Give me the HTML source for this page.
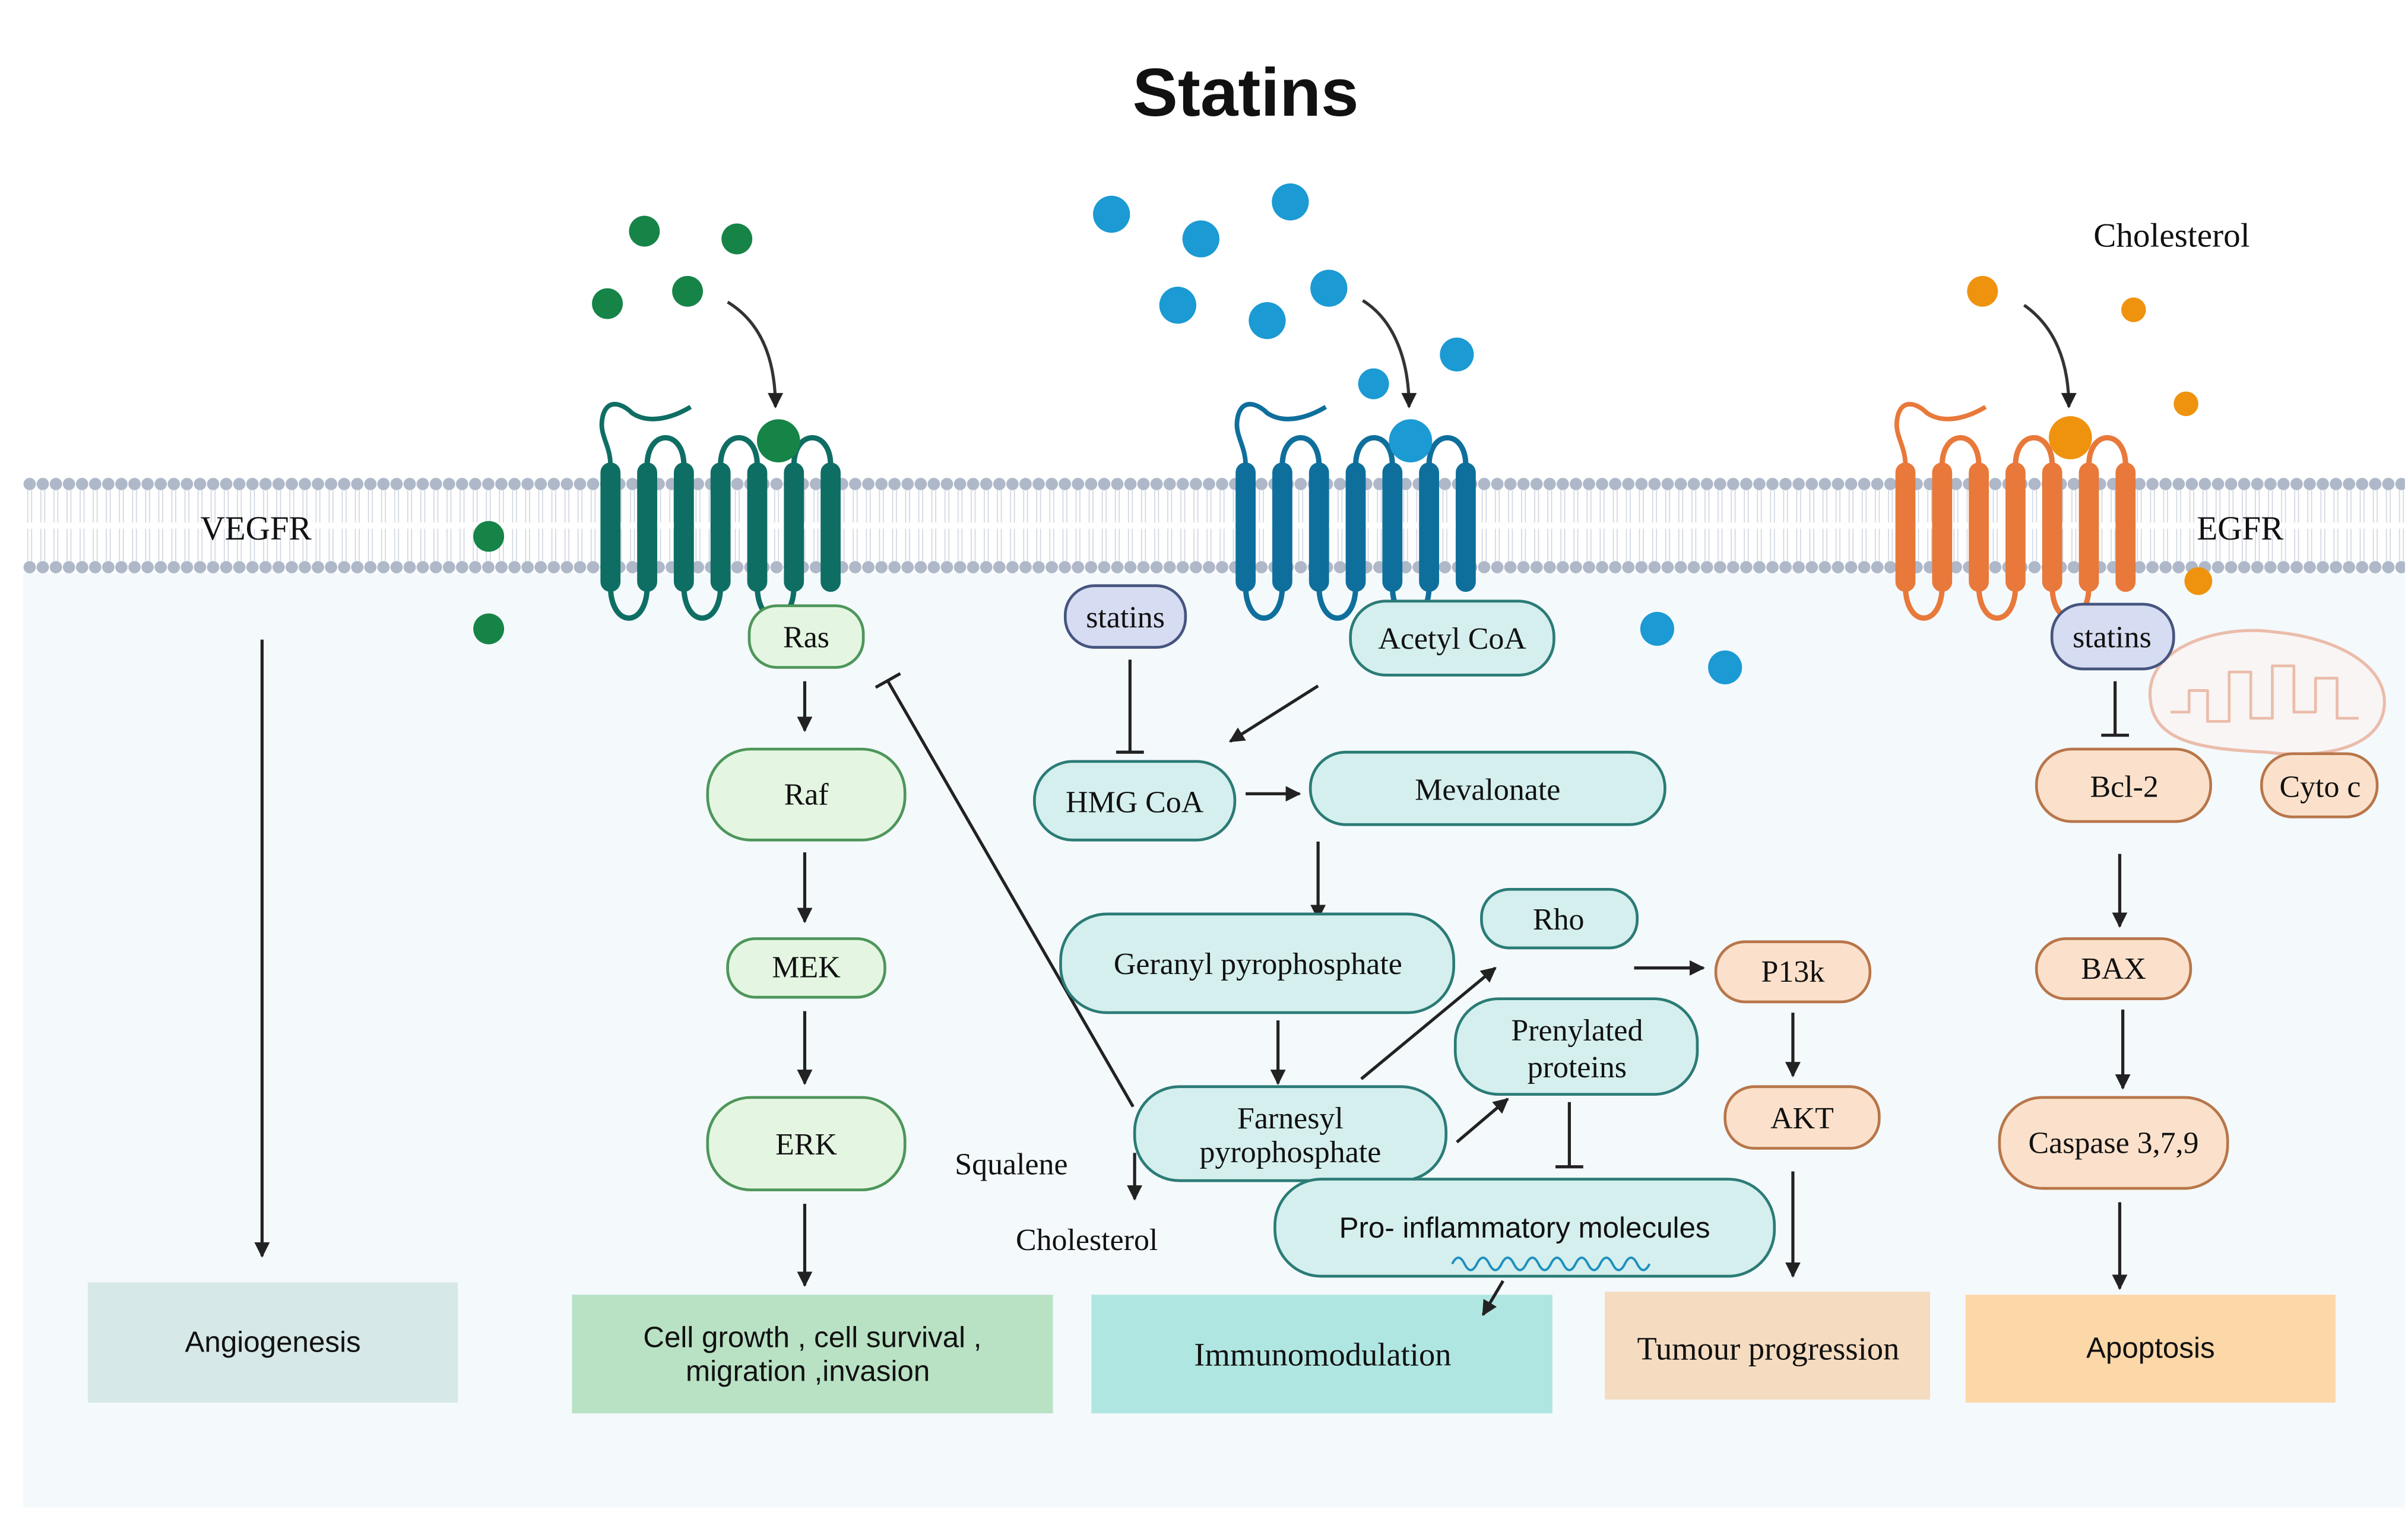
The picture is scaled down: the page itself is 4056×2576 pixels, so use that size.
<!DOCTYPE html>
<html><head><meta charset="utf-8"><style>html,body{margin:0;padding:0;background:#fff}svg{display:block}</style></head>
<body>
<svg xmlns="http://www.w3.org/2000/svg" width="4056" height="2576" viewBox="0 0 1562 992" preserveAspectRatio="none">
<defs>
<pattern id="mem" x="15" y="308" width="8.5" height="66" patternUnits="userSpaceOnUse">
<line x1="3" y1="10" x2="3" y2="31" stroke="#cdd3de" stroke-width="0.6"/>
<line x1="5.5" y1="10" x2="5.5" y2="31" stroke="#cdd3de" stroke-width="0.6"/>
<line x1="3" y1="35" x2="3" y2="56" stroke="#cdd3de" stroke-width="0.6"/>
<line x1="5.5" y1="35" x2="5.5" y2="56" stroke="#cdd3de" stroke-width="0.6"/>
<circle cx="4.25" cy="6" r="4" fill="#aeb8c9"/>
<circle cx="4.25" cy="60" r="4" fill="#aeb8c9"/>
</pattern>
<marker id="ah" viewBox="0 0 10 10" refX="9" refY="5" markerWidth="5" markerHeight="5" orient="auto"><path d="M0 0 L10 5 L0 10 z" fill="#222"/></marker>
<g id="rec">
<path d="M0 302 C0 288,-8 282,-5 270 C-2 258,8 262,14 268 C26 276,42 270,52 264" fill="none" stroke="currentColor" stroke-width="3"/>
<path d="M23.8 302 C23.8 278,47.6 278,47.6 302 M71.4 302 C71.4 278,95.2 278,95.2 302 M119 302 C119 278,142.8 278,142.8 302" fill="none" stroke="currentColor" stroke-width="3.5"/>
<path d="M0 380 C0 408,23.8 408,23.8 380 M47.6 380 C47.6 408,71.4 408,71.4 380 M95.2 380 C95.2 408,119 408,119 380" fill="none" stroke="currentColor" stroke-width="3.5"/>
<rect x="-6.5" y="300" width="13" height="84" rx="6.5" fill="currentColor"/>
<rect x="17.3" y="300" width="13" height="84" rx="6.5" fill="currentColor"/>
<rect x="41.1" y="300" width="13" height="84" rx="6.5" fill="currentColor"/>
<rect x="64.9" y="300" width="13" height="84" rx="6.5" fill="currentColor"/>
<rect x="88.7" y="300" width="13" height="84" rx="6.5" fill="currentColor"/>
<rect x="112.5" y="300" width="13" height="84" rx="6.5" fill="currentColor"/>
<rect x="136.3" y="300" width="13" height="84" rx="6.5" fill="currentColor"/>
</g>
</defs>
<rect x="0" y="0" width="1562" height="992" fill="#fff"/>
<rect x="15" y="372" width="1545" height="606" fill="#f4f9fc"/>
<rect x="15" y="308" width="1545" height="66" fill="url(#mem)"/>

<text x="808" y="75" font-family="Liberation Sans, sans-serif" font-weight="bold" font-size="44" text-anchor="middle" fill="#111">Statins</text>

<!-- receptors -->
<use href="#rec" x="396" y="0" style="color:#0f6e64"/>
<use href="#rec" x="808" y="0" style="color:#0f6f9c"/>
<use href="#rec" x="1236" y="0" style="color:#e8793a"/>

<!-- ligands -->
<g fill="#168447">
<circle cx="418" cy="150" r="10"/><circle cx="478" cy="155" r="10"/><circle cx="394" cy="197" r="10"/><circle cx="446" cy="189" r="10"/><circle cx="317" cy="348" r="10"/><circle cx="317" cy="408" r="10"/><circle cx="505" cy="286" r="14"/>
</g>
<g fill="#1b9ad3">
<circle cx="721" cy="139" r="12"/><circle cx="779" cy="155" r="12"/><circle cx="837" cy="131" r="12"/><circle cx="764" cy="198" r="12"/><circle cx="822" cy="208" r="12"/><circle cx="862" cy="187" r="12"/><circle cx="891" cy="249" r="10"/><circle cx="945" cy="230" r="11"/><circle cx="1075" cy="408" r="11"/><circle cx="1119" cy="433" r="11"/><circle cx="915" cy="286" r="14"/>
</g>
<g fill="#ef930f">
<circle cx="1286" cy="189" r="10"/><circle cx="1384" cy="201" r="8"/><circle cx="1418" cy="262" r="8"/><circle cx="1426" cy="377" r="9"/><circle cx="1343" cy="284" r="14"/>
</g>
<g fill="none" stroke="#333" stroke-width="2" marker-end="url(#ah)">
<path d="M472 196 C495 210,503 235,503 264"/>
<path d="M884 195 C905 208,914 235,914 264"/>
<path d="M1313 198 C1333 212,1342 235,1342 264"/>
</g>

<text x="130" y="350" font-family="Liberation Serif, serif" font-size="22" fill="#111">VEGFR</text>
<text x="1425" y="350" font-family="Liberation Serif, serif" font-size="22" fill="#111">EGFR</text>
<text x="1358" y="160" font-family="Liberation Serif, serif" font-size="22" fill="#111">Cholesterol</text>

<!-- mitochondrion -->
<path d="M1395 455 C1390 420,1440 405,1475 410 C1520 414,1552 435,1546 462 C1540 488,1500 492,1470 488 C1430 486,1398 482,1395 455 z" fill="#fbf1ee" fill-opacity="0.6" stroke="#ebbcab" stroke-width="2"/>
<path d="M1408 462 L1420 462 L1420 448 L1432 448 L1432 468 L1446 468 L1446 436 L1460 436 L1460 466 L1474 466 L1474 432 L1488 432 L1488 462 L1502 462 L1502 440 L1516 440 L1516 466 L1530 466" fill="none" stroke="#ebbcab" stroke-width="1.8" stroke-linejoin="round"/>

<!-- bottom boxes -->
<rect x="57" y="832" width="240" height="78" fill="#d6e8e7"/>
<rect x="371" y="840" width="312" height="77" fill="#b9e2c5"/>
<rect x="708" y="840" width="299" height="77" fill="#b0e6e1"/>
<rect x="1041" y="838" width="211" height="70" fill="#f5dcc0"/>
<rect x="1275" y="840" width="240" height="70" fill="#fcd7a8"/>
<g font-size="19" text-anchor="middle" fill="#111">
<text x="177" y="877" font-family="Liberation Sans, sans-serif">Angiogenesis</text>
<text x="527" y="874" font-family="Liberation Sans, sans-serif">Cell growth , cell survival ,</text>
<text x="524" y="896" font-family="Liberation Sans, sans-serif">migration ,invasion</text>
<text x="858" y="886" font-family="Liberation Serif, serif" font-size="21">Immunomodulation</text>
<text x="1147" y="882" font-family="Liberation Serif, serif" font-size="21">Tumour progression</text>
<text x="1395" y="881" font-family="Liberation Sans, sans-serif">Apoptosis</text>
</g>

<!-- connectors -->
<g stroke="#222" stroke-width="2" fill="none" marker-end="url(#ah)">
<line x1="170" y1="415" x2="170" y2="815"/>
<line x1="522" y1="442" x2="522" y2="474"/>
<line x1="522" y1="553" x2="522" y2="598"/>
<line x1="522" y1="656" x2="522" y2="703"/>
<line x1="522" y1="781" x2="522" y2="834"/>
<line x1="855" y1="445" x2="798" y2="481"/>
<line x1="808" y1="515" x2="843" y2="515"/>
<line x1="855" y1="546" x2="855" y2="596"/>
<line x1="829" y1="662" x2="829" y2="703"/>
<line x1="883" y1="700" x2="970" y2="628"/>
<line x1="945" y1="741" x2="978" y2="713"/>
<line x1="1060" y1="628" x2="1105" y2="628"/>
<line x1="736" y1="748" x2="736" y2="778"/>
<line x1="975" y1="831" x2="962" y2="853"/>
<line x1="1163" y1="657" x2="1163" y2="698"/>
<line x1="1163" y1="760" x2="1163" y2="828"/>
<line x1="1375" y1="554" x2="1375" y2="601"/>
<line x1="1377" y1="655" x2="1377" y2="706"/>
<line x1="1375" y1="780" x2="1375" y2="836"/>
</g>
<g stroke="#222" stroke-width="2" fill="none">
<line x1="735" y1="718" x2="576" y2="442"/><line x1="568" y1="446" x2="584" y2="437"/>
<line x1="733" y1="428" x2="733" y2="488"/><line x1="724" y1="488" x2="742" y2="488"/>
<line x1="1018" y1="715" x2="1018" y2="757"/><line x1="1009" y1="757" x2="1027" y2="757"/>
<line x1="1372" y1="442" x2="1372" y2="477"/><line x1="1363" y1="477" x2="1381" y2="477"/>
</g>

<!-- nodes -->
<g font-family="Liberation Serif, serif" font-size="20" text-anchor="middle" fill="#111">
<g fill="#e4f6e2" stroke="#4e965a" stroke-width="1.8">
<rect x="486" y="393" width="74" height="40" rx="18"/>
<rect x="459" y="486" width="128" height="59" rx="28"/>
<rect x="472" y="609" width="102" height="38" rx="18"/>
<rect x="459" y="712" width="128" height="60" rx="28"/>
</g>
<g fill="#d6dcf1" stroke="#46557f" stroke-width="1.8">
<rect x="691" y="380" width="78" height="40" rx="19"/>
<rect x="1331" y="392" width="79" height="42" rx="20"/>
</g>
<g fill="#d4efee" stroke="#2b7b76" stroke-width="1.8">
<rect x="876" y="390" width="132" height="48" rx="23"/>
<rect x="671" y="494" width="130" height="51" rx="25"/>
<rect x="850" y="488" width="230" height="47" rx="23"/>
<rect x="688" y="593" width="255" height="64" rx="30"/>
<rect x="961" y="577" width="101" height="38" rx="18"/>
<rect x="944" y="648" width="157" height="62" rx="28"/>
<rect x="736" y="705" width="202" height="61" rx="29"/>
<rect x="827" y="765" width="324" height="63" rx="30"/>
</g>
<g fill="#fbe1cb" stroke="#b8764a" stroke-width="1.8">
<rect x="1113" y="611" width="100" height="39" rx="19"/>
<rect x="1119" y="705" width="100" height="40" rx="19"/>
<rect x="1321" y="486" width="113" height="47" rx="23"/>
<rect x="1467" y="489" width="75" height="41" rx="20"/>
<rect x="1321" y="609" width="100" height="39" rx="19"/>
<rect x="1297" y="712" width="148" height="59" rx="28"/>
</g>
<path d="M942 820 q4 -8 8 0 t8 0 t8 0 t8 0 t8 0 t8 0 t8 0 t8 0 t8 0 t8 0 t8 0 t8 0 t8 0 t8 0 t8 0 t8 0" fill="none" stroke="#1c8fc0" stroke-width="1.5"/>

<text x="523" y="420">Ras</text>
<text x="523" y="522">Raf</text>
<text x="523" y="634">MEK</text>
<text x="523" y="749">ERK</text>
<text x="730" y="407">statins</text>
<text x="1370" y="420">statins</text>
<text x="942" y="421">Acetyl CoA</text>
<text x="736" y="527">HMG CoA</text>
<text x="965" y="519">Mevalonate</text>
<text x="816" y="632">Geranyl pyrophosphate</text>
<text x="1011" y="603">Rho</text>
<text x="1023" y="675">Prenylated</text>
<text x="1023" y="699">proteins</text>
<text x="837" y="732">Farnesyl</text>
<text x="837" y="754">pyrophosphate</text>
<text x="1163" y="637">P13k</text>
<text x="1169" y="732">AKT</text>
<text x="1378" y="517">Bcl-2</text>
<text x="1505" y="517">Cyto c</text>
<text x="1371" y="635">BAX</text>
<text x="1371" y="748">Caspase 3,7,9</text>
<text x="656" y="762">Squalene</text>
<text x="705" y="811">Cholesterol</text>
<text x="989" y="803" font-family="Liberation Sans, sans-serif" font-size="19">Pro- inflammatory molecules</text>
</g>
</svg>
</body></html>
